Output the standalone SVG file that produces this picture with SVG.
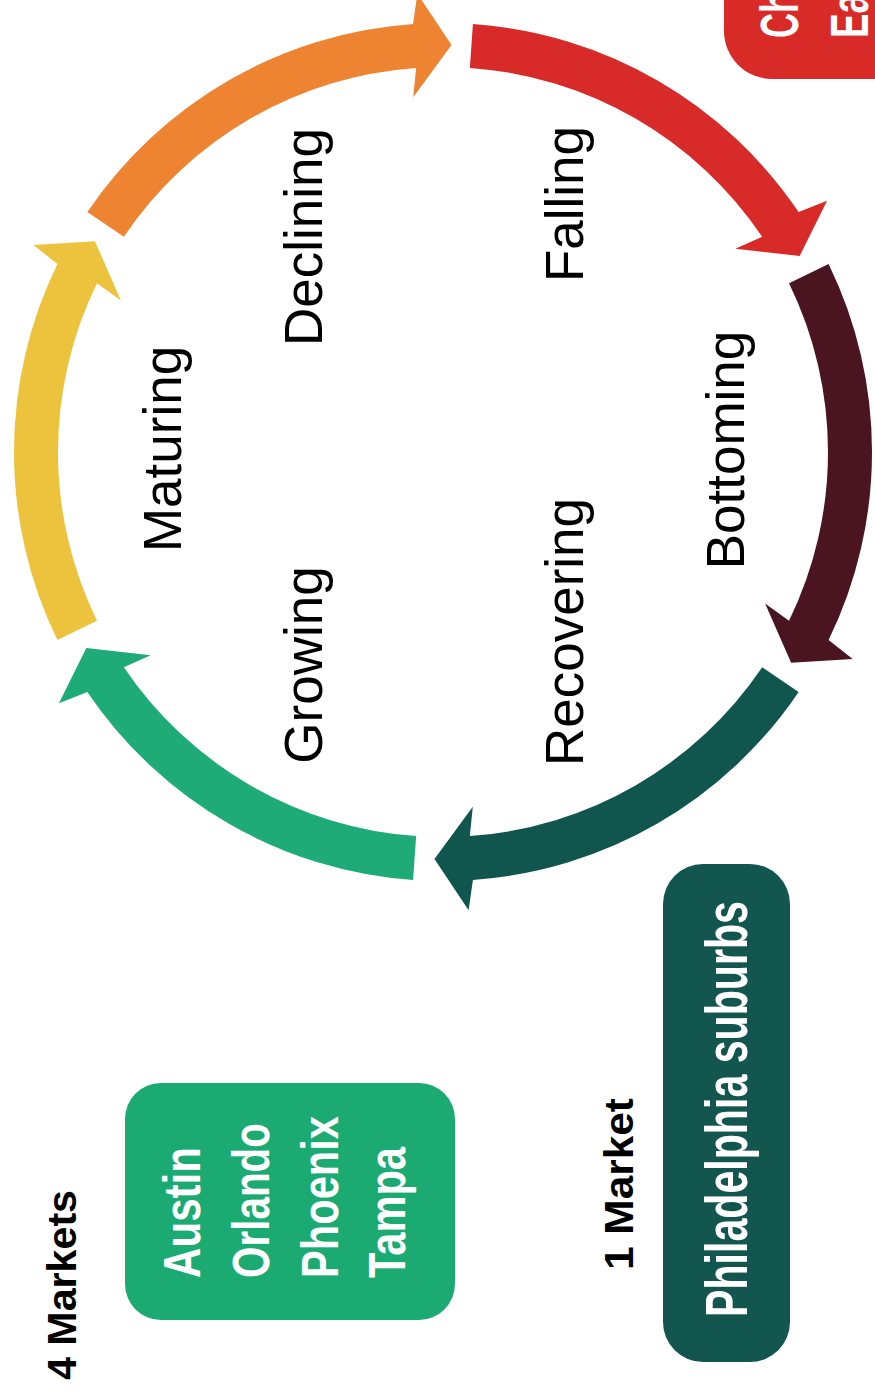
<svg xmlns="http://www.w3.org/2000/svg" width="875" height="1393" viewBox="0 0 875 1393">
  <style>
    .lbl { font-family: "Liberation Sans", Arial, sans-serif; font-size: 53px; fill: #000; text-anchor: middle; }
    .cnt { font-family: "Liberation Sans", Arial, sans-serif; font-weight: bold; font-size: 41px; fill: #000; }
    .box { font-family: "Liberation Sans Narrow", "Liberation Sans", Arial, sans-serif; font-weight: bold; fill: #fff; }
  </style>
  <defs>
    <path id="arc" d="M 429 0 A 429 429 0 0 1 264.12 338.06 L 277.51 365.61 L 220.47 342.11 L 223.07 277.44 L 237.03 303.38 A 385 385 0 0 0 385 0 Z"/>
  </defs>
  <rect width="875" height="1393" fill="#fff"/>

  <g id="connectors">
    <use href="#arc" fill="#1FAB78" transform="translate(443,452) rotate(94)"/>
    <use href="#arc" fill="#EDC33E" transform="translate(443,452) rotate(154)"/>
    <use href="#arc" fill="#EE8431" transform="translate(443,452) rotate(214)"/>
    <use href="#arc" fill="#D72A29" transform="translate(443,452) rotate(274)"/>
    <use href="#arc" fill="#4A1520" transform="translate(443,452) rotate(334)"/>
    <use href="#arc" fill="#10564F" transform="translate(443,452) rotate(34)"/>
  </g>

  <g id="label-declining"><text class="lbl" transform="translate(322,237) rotate(-90)">Declining</text></g>
  <g id="label-falling"><text class="lbl" transform="translate(583,204) rotate(-90)">Falling</text></g>
  <g id="label-maturing"><text class="lbl" transform="translate(181,449) rotate(-90)">Maturing</text></g>
  <g id="label-bottoming"><text class="lbl" transform="translate(744,450) rotate(-90)">Bottoming</text></g>
  <g id="label-growing"><text class="lbl" transform="translate(322,665) rotate(-90)">Growing</text></g>
  <g id="label-recovering"><text class="lbl" transform="translate(583,632) rotate(-90)">Recovering</text></g>

  <g id="box-falling">
    <rect x="724" y="-60" width="200" height="139" rx="48" fill="#D82A27"/>
    <text class="box" font-size="54" transform="translate(798,38) rotate(-90)" textLength="46" lengthAdjust="spacingAndGlyphs">Ch</text>
    <text class="box" font-size="54" transform="translate(868,38) rotate(-90)" textLength="45" lengthAdjust="spacingAndGlyphs">Ea</text>
  </g>

  <g id="box-growing">
    <text class="cnt" transform="translate(76,1380) rotate(-90)" textLength="190" lengthAdjust="spacingAndGlyphs">4 Markets</text>
    <rect x="125" y="1083" width="330" height="237" rx="36" fill="#1AAA72"/>
    <text class="box" font-size="52" transform="translate(200,1278) rotate(-90)" textLength="131" lengthAdjust="spacingAndGlyphs">Austin</text>
    <text class="box" font-size="52" transform="translate(269,1278) rotate(-90)" textLength="155" lengthAdjust="spacingAndGlyphs">Orlando</text>
    <text class="box" font-size="52" transform="translate(338,1278) rotate(-90)" textLength="162" lengthAdjust="spacingAndGlyphs">Phoenix</text>
    <text class="box" font-size="52" transform="translate(405,1278) rotate(-90)" textLength="131" lengthAdjust="spacingAndGlyphs">Tampa</text>
  </g>

  <g id="box-recovering">
    <text class="cnt" transform="translate(633,1270) rotate(-90)" textLength="172" lengthAdjust="spacingAndGlyphs">1 Market</text>
    <rect x="663" y="864" width="127" height="498" rx="40" fill="#13554F"/>
    <text class="box" font-size="60" transform="translate(747,1317) rotate(-90)" textLength="416" lengthAdjust="spacingAndGlyphs">Philadelphia suburbs</text>
  </g>
</svg>
